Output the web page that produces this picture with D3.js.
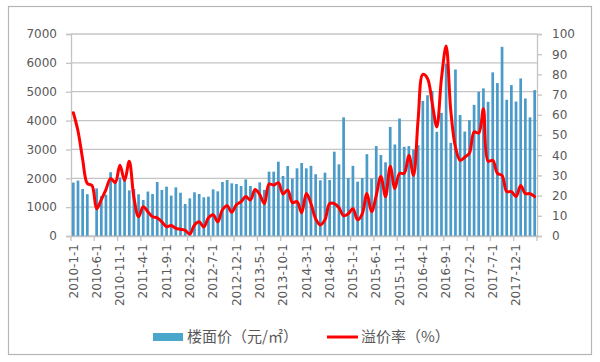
<!DOCTYPE html>
<html><head><meta charset="utf-8">
<script src="https://cdn.jsdelivr.net/npm/d3@7"></script>
<style>body{margin:0;background:#fff}</style>
</head><body>
<script>
const months = [
"2010-1-1","2010-2-1","2010-3-1","2010-4-1","2010-5-1","2010-6-1","2010-7-1","2010-8-1","2010-9-1","2010-10-1","2010-11-1","2010-12-1",
"2011-1-1","2011-2-1","2011-3-1","2011-4-1","2011-5-1","2011-6-1","2011-7-1","2011-8-1","2011-9-1","2011-10-1","2011-11-1","2011-12-1",
"2012-1-1","2012-2-1","2012-3-1","2012-4-1","2012-5-1","2012-6-1","2012-7-1","2012-8-1","2012-9-1","2012-10-1","2012-11-1","2012-12-1",
"2013-1-1","2013-2-1","2013-3-1","2013-4-1","2013-5-1","2013-6-1","2013-7-1","2013-8-1","2013-9-1","2013-10-1","2013-11-1","2013-12-1",
"2014-1-1","2014-2-1","2014-3-1","2014-4-1","2014-5-1","2014-6-1","2014-7-1","2014-8-1","2014-9-1","2014-10-1","2014-11-1","2014-12-1",
"2015-1-1","2015-2-1","2015-3-1","2015-4-1","2015-5-1","2015-6-1","2015-7-1","2015-8-1","2015-9-1","2015-10-1","2015-11-1","2015-12-1",
"2016-1-1","2016-2-1","2016-3-1","2016-4-1","2016-5-1","2016-6-1","2016-7-1","2016-8-1","2016-9-1","2016-10-1","2016-11-1","2016-12-1",
"2017-1-1","2017-2-1","2017-3-1","2017-4-1","2017-5-1","2017-6-1","2017-7-1","2017-8-1","2017-9-1","2017-10-1","2017-11-1","2017-12-1",
"2018-1-1","2018-2-1","2018-3-1","2018-4-1"];

// 楼面价（元/㎡）
const floorPrice = [
1850,1920,1630,1450,null,1650,1380,1430,2210,1870,2030,1930,
1580,1630,1445,1250,1540,1455,1870,1595,1710,1400,1686,1500,
1110,1305,1515,1455,1340,1365,1617,1548,1871,1940,1825,1802,
1733,1963,1733,1594,1859,1600,2229,2229,2576,2079,2426,1990,
2345,2530,2345,2430,2140,1930,2195,1940,2922,2483,4112,2010,
2430,1883,2010,2835,1990,3118,2807,2553,3780,3171,4071,3091,
3114,2998,3149,4682,4878,5028,3610,4267,5973,3229,5770,4190,
3620,4015,4545,5000,5115,4650,5670,5300,6555,4720,5230,4660,
5460,4765,4110,5055];

// 溢价率（%）
const premiumRate = [
61,52,38,26,25,13.5,18,23,28.5,26.5,35,27.5,
37,19,9.5,14.5,12,9.5,9,7,4.6,5.2,3.8,3.3,
2.8,1,5.5,7,4.5,9,10.5,7,13,15,11.8,15.5,
17,19.5,17.8,23,20.5,16,25.7,25.2,26.4,20.8,22.8,16.5,
17,11.5,21,16,8.5,5.5,8,16,16,14,10,11,
13.5,8,11,21,12,20,29.5,19.5,34.5,23.5,31,31,
40,30,58,80,78,66,54,78,94,62,44,37.5,
39,41,51.5,51,63,37,37.5,31,30,22,22,19.5,
25,21,21,19.5];

const tickLabels = ["2010-1-1","2010-6-1","2010-11-1","2011-4-1","2011-9-1","2012-2-1","2012-7-1","2012-12-1","2013-5-1","2013-10-1","2014-3-1","2014-8-1","2015-1-1","2015-6-1","2015-11-1","2016-4-1","2016-9-1","2017-2-1","2017-7-1","2017-12-1"];
const leftTicks = [0,1000,2000,3000,4000,5000,6000,7000];
const rightTicks = [0,10,20,30,40,50,60,70,80,90,100];
const legendLabels = ["楼面价（元/㎡）","溢价率（%）"];

const W = 600, H = 362;
const L = 71, R = 537, T = 34, B = 236;
const gridColor = "#c4c4c4", textColor = "#595959";
const barColor = "#4a9bca", lineColor = "#ff0000";

const svg = d3.select("body").append("svg").attr("width", W).attr("height", H)
  .style("font-family", "'DejaVu Sans', sans-serif");

svg.append("rect").attr("x", 8.5).attr("y", 6.5).attr("width", 583).attr("height", 348)
  .attr("fill", "#fff").attr("stroke", "#b5b5b5").attr("stroke-width", 1.2);

const x = d3.scaleBand().domain(months).range([L, R]).paddingInner(0.42).paddingOuter(0.21);
const yL = d3.scaleLinear().domain([0, 7000]).range([B, T]);
const yR = d3.scaleLinear().domain([0, 100]).range([B, T]);

// gridlines
svg.append("g").selectAll("line").data(leftTicks).join("line")
  .attr("x1", L).attr("x2", R).attr("y1", d => yL(d)).attr("y2", d => yL(d))
  .attr("stroke", gridColor).attr("stroke-width", 1.3);

// left axis
const gL = svg.append("g").attr("transform", `translate(${L},0)`)
  .call(d3.axisLeft(yL).tickValues(leftTicks).tickFormat(d3.format("d")).tickSize(5).tickPadding(9));
// right axis
const gR = svg.append("g").attr("transform", `translate(${R},0)`)
  .call(d3.axisRight(yR).tickValues(rightTicks).tickFormat(d3.format("d")).tickSize(5).tickPadding(10));
[gL, gR].forEach(g => {
  g.select(".domain").attr("stroke", gridColor).attr("stroke-width", 1.3);
  g.selectAll(".tick line").attr("stroke", gridColor).attr("stroke-width", 1.3);
  g.selectAll("text").attr("fill", textColor).style("font-size", "12px").style("font-family", "'DejaVu Sans', sans-serif");
});

// bars
svg.append("g").selectAll("rect").data(months.map((m, i) => ({m, v: floorPrice[i]})).filter(d => d.v != null))
  .join("rect")
  .attr("x", d => x(d.m)).attr("width", x.bandwidth())
  .attr("y", d => yL(d.v)).attr("height", d => B - yL(d.v))
  .attr("fill", barColor);

// bottom axis
const gB = svg.append("g").attr("transform", `translate(0,${B})`)
  .call(d3.axisBottom(x).tickValues(tickLabels).tickSize(0).tickPadding(0));
gB.select(".domain").attr("stroke", gridColor).attr("stroke-width", 1.3);
gB.selectAll(".tick text")
  .attr("fill", textColor).style("font-size", "12px").style("font-family", "'DejaVu Sans', sans-serif")
  .attr("text-anchor", "end").attr("transform", "translate(0,8) rotate(-90)")
  .attr("x", 0).attr("y", 0).attr("dy", "0.35em");
// boundary tick marks every 5 categories
const boundaries = tickLabels.map(t => x(t) - x.step() * x.paddingInner() / 2).concat([R]);
svg.append("g").selectAll("line").data(boundaries).join("line")
  .attr("x1", d => d).attr("x2", d => d).attr("y1", B).attr("y2", B + 5)
  .attr("stroke", gridColor).attr("stroke-width", 1.3);

// premium line
const line = d3.line()
  .x((d, i) => x(months[i]) + x.bandwidth() / 2)
  .y(d => yR(d))
  .curve(d3.curveCatmullRom.alpha(0.5));
svg.append("path").datum(premiumRate).attr("d", line)
  .attr("fill", "none").attr("stroke", lineColor).attr("stroke-width", 3)
  .attr("stroke-linejoin", "round").attr("stroke-linecap", "round");

// legend
const lg = svg.append("g").style("font-family", "'Noto Sans CJK SC', sans-serif").style("font-size", "15px");
lg.append("rect").attr("x", 153).attr("y", 333).attr("width", 30).attr("height", 8).attr("fill", "#4aa6cb");
lg.append("text").attr("x", 187).attr("y", 337).attr("dy", "0.36em").attr("fill", textColor).text(legendLabels[0]);
lg.append("line").attr("x1", 327).attr("x2", 358).attr("y1", 337).attr("y2", 337)
  .attr("stroke", lineColor).attr("stroke-width", 3);
lg.append("text").attr("x", 361).attr("y", 337).attr("dy", "0.36em").attr("fill", textColor).text(legendLabels[1]);
</script>
</body></html>
